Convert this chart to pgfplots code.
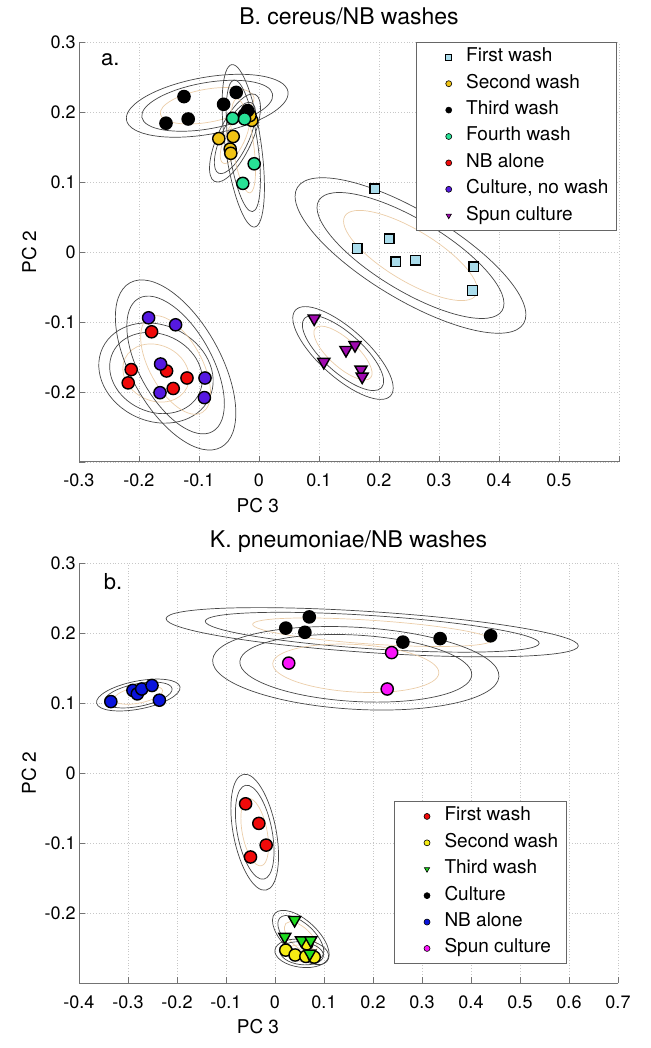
\documentclass[border=0pt]{standalone}
\usepackage{fontspec}
\setmainfont{TeX Gyre Heros}
\usepackage{pgfplots}
\pgfplotsset{compat=1.18}

\definecolor{cFirstA}{RGB}{170,220,235}
\definecolor{cSecondA}{RGB}{240,195,20}
\definecolor{cFourthA}{RGB}{40,225,150}
\definecolor{cNBA}{RGB}{240,10,10}
\definecolor{cCultA}{RGB}{85,25,225}
\definecolor{cSpunA}{RGB}{160,10,175}
\definecolor{cRedB}{RGB}{240,10,10}
\definecolor{cYelB}{RGB}{245,235,20}
\definecolor{cGrnB}{RGB}{30,220,30}
\definecolor{cBluB}{RGB}{10,20,220}
\definecolor{cMagB}{RGB}{250,20,250}
\definecolor{ellg}{RGB}{70,70,70}
\definecolor{ello}{RGB}{235,205,168}

\newcommand{\confell}[5]{%
  \draw[ellg, line width=0.35pt, rotate around={#5:(axis cs:#1,#2)}] (axis cs:#1,#2) ellipse [x radius=#3*0.5pt, y radius=#4*0.5pt];
  \draw[ellg, line width=0.35pt, rotate around={#5:(axis cs:#1,#2)}] (axis cs:#1,#2) ellipse [x radius=#3*0.405pt, y radius=#4*0.405pt];
  \draw[ello, line width=0.35pt, rotate around={#5:(axis cs:#1,#2)}] (axis cs:#1,#2) ellipse [x radius=#3*0.29pt, y radius=#4*0.29pt];
}

\pgfplotsset{
  pcaxis/.style={
    scale only axis, axis x line*=bottom, axis y line*=left,
    axis line style={-, draw=black!55, line width=0.5pt},
    tick align=inside, major tick length=3pt, tick style={draw=black!55, line width=0.4pt},
    grid=major, grid style={densely dotted, draw=black!22, line width=0.4pt},
    ticklabel style={font=\fontsize{9}{10}\selectfont},
    xticklabel style={anchor=base, yshift=-12.5pt},
    yticklabel style={anchor=east, inner xsep=1.5pt},
    label style={font=\fontsize{9.5}{11}\selectfont},
    every axis title shift=0pt,
    title style={font=\fontsize{11.5}{13}\selectfont},
    legend cell align=left,
    legend style={draw=black!60, line width=0.5pt, inner xsep=2pt, inner ysep=0.8pt,
      font=\fontsize{9.5}{11}\selectfont,
      nodes={inner xsep=2pt, inner ysep=0pt, text height=8.8pt, text depth=4.4pt}},
  },
  lgimg/.style={legend image code/.code={\path (-14pt,0pt) (6.5pt,0pt); \draw[##1, mark size=1.5pt, every mark/.append style={line width=0.3pt}] plot coordinates {(0pt,0pt)};}},
  mkc/.style={only marks, mark=*, mark size=3.05pt, mark options={draw=black, fill=#1, line width=0.7pt}, lgimg},
  mks/.style={only marks, mark=square*, mark size=2.4pt, mark options={draw=black, fill=#1, line width=0.7pt}, lgimg},
  mkt/.style={only marks, mark=triangle*, mark size=3.5pt, mark options={draw=black, fill=#1, line width=0.7pt, rotate=180}, lgimg},
}

\begin{document}
\begin{tikzpicture}
\path[use as bounding box] (0,0) rectangle (325.5pt,524pt);

% ---------------- top panel ----------------
\begin{axis}[pcaxis,
  at={(39.5pt,293pt)}, anchor=south west,
  width=270pt, height=210pt,
  xmin=-0.3, xmax=0.6, ymin=-0.3, ymax=0.3,
  xtick={-0.3,-0.2,-0.1,0,0.1,0.2,0.3,0.4,0.5,0.6},
  xticklabels={-0.3,-0.2,-0.1,0,0.1,0.2,0.3,0.4,0.5,{}},
  ytick={-0.3,-0.2,-0.1,0,0.1,0.2,0.3},
  yticklabels={{},-0.2,-0.1,0,0.1,0.2,0.3},
  title={B. cereus/NB washes},
  title style={at={(axis description cs:0.5,1.0405)}, anchor=base},
  xlabel={PC 3}, xlabel style={at={(axis description cs:0.331,-0.1214)}, anchor=base},
  ylabel={PC 2}, ylabel style={at={(axis description cs:-0.0796,0.5)}, anchor=base},
  legend style={at={(axis description cs:0.996,1.0)}, anchor=north east},
]
\confell{-0.0863}{0.2089}{82}{28.5}{10}
\confell{-0.040}{0.1629}{48}{17}{65}
\confell{-0.0262}{0.1517}{82}{18}{98}
\confell{0.2525}{-0.0050}{132}{44}{-31}
\confell{0.140}{-0.1443}{64}{24}{-42}
\confell{-0.1717}{-0.1729}{59}{48}{-25}
\confell{-0.139}{-0.1614}{94}{45}{119}

\addplot[mks=cFirstA] coordinates {(0.193,0.090) (0.217,0.019) (0.164,0.005) (0.228,-0.014) (0.261,-0.012) (0.358,-0.021) (0.356,-0.055)};
\addlegendentry{First wash}
\addplot[mkc=cSecondA] coordinates {(-0.067,0.162) (-0.043,0.165) (-0.048,0.147) (-0.047,0.141) (-0.012,0.188) (-0.015,0.195)};
\addlegendentry{Second wash}
\addplot[mkc=black] coordinates {(-0.155,0.184) (-0.125,0.222) (-0.118,0.190) (-0.059,0.211) (-0.038,0.228) (-0.019,0.202) (-0.024,0.196)};
\addlegendentry{Third wash}
\addplot[mkc=cFourthA] coordinates {(-0.044,0.191) (-0.024,0.190) (-0.008,0.126) (-0.027,0.098)};
\addlegendentry{Fourth wash}
\addplot[mkc=cNBA] coordinates {(-0.179,-0.114) (-0.213,-0.168) (-0.218,-0.187) (-0.154,-0.170) (-0.143,-0.195) (-0.120,-0.180)};
\addlegendentry{NB alone}
\addplot[mkc=cCultA] coordinates {(-0.184,-0.094) (-0.139,-0.104) (-0.164,-0.160) (-0.165,-0.201) (-0.090,-0.180) (-0.091,-0.208)};
\addlegendentry{Culture, no wash}
\addplot[mkt=cSpunA] coordinates {(0.092,-0.095) (0.108,-0.157) (0.145,-0.140) (0.160,-0.133) (0.170,-0.168) (0.172,-0.178)};
\addlegendentry{Spun culture}

\node[anchor=base west, font=\fontsize{11}{13}\selectfont] at (axis description cs:0.028,0.945) {a.};
\end{axis}

% ---------------- bottom panel ----------------
\begin{axis}[pcaxis,
  at={(39.5pt,32.5pt)}, anchor=south west,
  width=269.5pt, height=210pt,
  xmin=-0.4, xmax=0.7, ymin=-0.3, ymax=0.3,
  xtick={-0.4,-0.3,-0.2,-0.1,0,0.1,0.2,0.3,0.4,0.5,0.6,0.7},
  xticklabels={-0.4,-0.3,-0.2,-0.1,0,0.1,0.2,0.3,0.4,0.5,0.6,0.7},
  ytick={-0.3,-0.2,-0.1,0,0.1,0.2,0.3},
  yticklabels={{},-0.2,-0.1,0,0.1,0.2,0.3},
  title={K. pneumoniae/NB washes},
  title style={at={(axis description cs:0.5,1.038)}, anchor=base},
  xlabel={PC 3}, xlabel style={at={(axis description cs:0.332,-0.1214)}, anchor=base},
  ylabel={PC 2}, ylabel style={at={(axis description cs:-0.0798,0.5)}, anchor=base},
  legend style={at={(axis description cs:0.905,0.433)}, anchor=north east},
]
\confell{-0.279}{0.1114}{42.5}{14}{11}
\confell{0.1984}{0.2011}{206.6}{20.5}{-3.8}
\confell{0.1649}{0.1496}{143.4}{41}{-3.3}
\confell{-0.0414}{-0.0846}{59}{21.4}{101}
\confell{0.0527}{-0.235}{35.4}{17}{-43}
\confell{0.0545}{-0.2576}{27}{14}{-7}

\addplot[mkc=cRedB] coordinates {(-0.060,-0.044) (-0.033,-0.072) (-0.018,-0.103) (-0.050,-0.120)};
\addlegendentry{First wash}
\addplot[mkc=cYelB] coordinates {(0.022,-0.253) (0.041,-0.260) (0.063,-0.262) (0.080,-0.263) (0.065,-0.244)};
\addlegendentry{Second wash}
\addplot[mkt=cGrnB] coordinates {(0.040,-0.210) (0.020,-0.234) (0.054,-0.239) (0.073,-0.239) (0.071,-0.258)};
\addlegendentry{Third wash}
\addplot[mkc=black] coordinates {(0.022,0.207) (0.070,0.223) (0.061,0.201) (0.261,0.187) (0.337,0.192) (0.440,0.196)};
\addlegendentry{Culture}
\addplot[mkc=cBluB] coordinates {(-0.335,0.102) (-0.290,0.118) (-0.281,0.113) (-0.272,0.120) (-0.251,0.125) (-0.236,0.104)};
\addlegendentry{NB alone}
\addplot[mkc=cMagB] coordinates {(0.028,0.157) (0.238,0.172) (0.229,0.120)};
\addlegendentry{Spun culture}

\node[anchor=base west, font=\fontsize{11}{13}\selectfont] at (axis description cs:0.033,0.936) {b.};
\end{axis}
\end{tikzpicture}
\end{document}
